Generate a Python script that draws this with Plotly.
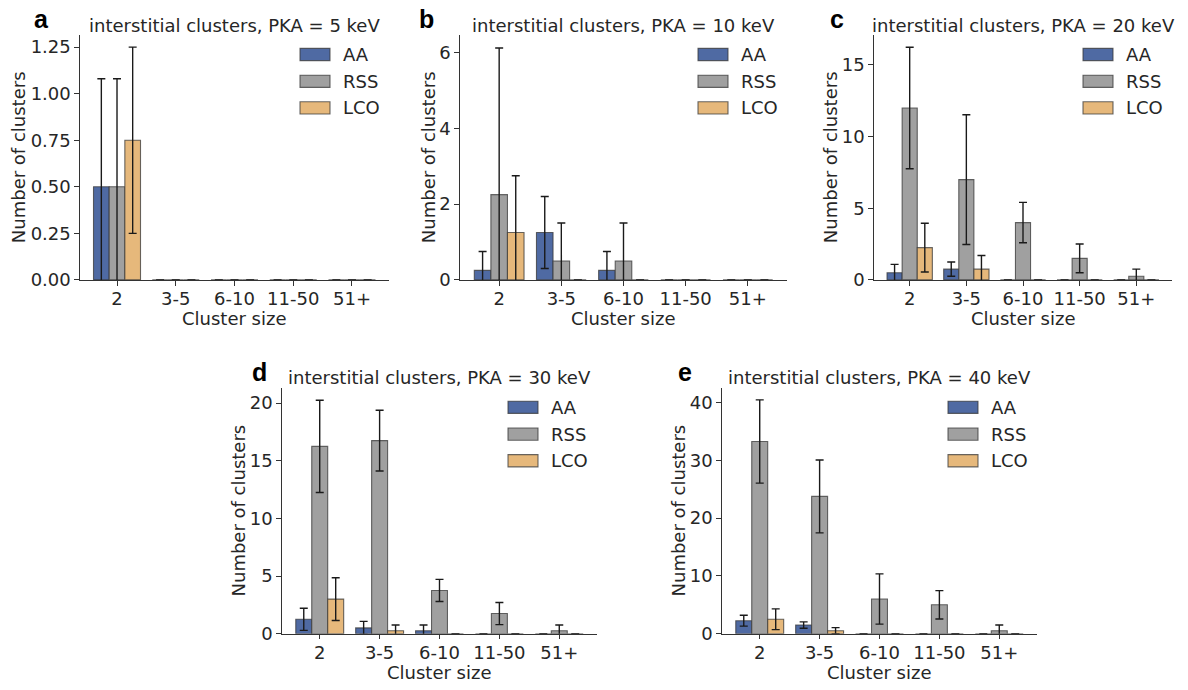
import plotly.graph_objects as go

# ---- data -----------------------------------------------------------------
categories = ["2", "3-5", "6-10", "11-50", "51+"]
series_names = ["AA", "RSS", "LCO"]
series_colors = ["#4f6aa3", "#a0a0a0", "#e6b87b"]
pka_energies = [5, 10, 20, 30, 40]
panel_letters = ["a", "b", "c", "d", "e"]

# mean number of interstitial clusters per size bin, with standard deviations
aa_5 = [0.5, 0, 0, 0, 0]
rss_5 = [0.5, 0, 0, 0, 0]
lco_5 = [0.75, 0, 0, 0, 0]
aa_5_err = [0.58, 0, 0, 0, 0]
rss_5_err = [0.58, 0, 0, 0, 0]
lco_5_err = [0.5, 0, 0, 0, 0]

aa_10 = [0.25, 1.25, 0.25, 0, 0]
rss_10 = [2.25, 0.5, 0.5, 0, 0]
lco_10 = [1.25, 0, 0, 0, 0]
aa_10_err = [0.5, 0.95, 0.5, 0, 0]
rss_10_err = [3.87, 1.0, 1.0, 0, 0]
lco_10_err = [1.5, 0, 0, 0, 0]

aa_20 = [0.5, 0.75, 0, 0, 0]
rss_20 = [12.0, 7.0, 4.0, 1.5, 0.25]
lco_20 = [2.25, 0.75, 0, 0, 0]
aa_20_err = [0.58, 0.5, 0, 0, 0]
rss_20_err = [4.24, 4.53, 1.41, 1.0, 0.5]
lco_20_err = [1.7, 0.95, 0, 0, 0]

aa_30 = [1.25, 0.5, 0.25, 0, 0]
rss_30 = [16.25, 16.75, 3.75, 1.75, 0.25]
lco_30 = [3.0, 0.25, 0, 0, 0]
aa_30_err = [0.96, 0.57, 0.5, 0, 0]
rss_30_err = [4.0, 2.64, 0.96, 0.96, 0.5]
lco_30_err = [1.85, 0.5, 0, 0, 0]

aa_40 = [2.25, 1.5, 0, 0, 0]
rss_40 = [33.25, 23.75, 6.0, 5.0, 0.5]
lco_40 = [2.5, 0.5, 0, 0, 0]
aa_40_err = [0.95, 0.55, 0, 0, 0]
rss_40_err = [7.2, 6.3, 4.35, 2.45, 1.0]
lco_40_err = [1.8, 0.55, 0, 0, 0]

panel_values = [
    [aa_5, rss_5, lco_5],
    [aa_10, rss_10, lco_10],
    [aa_20, rss_20, lco_20],
    [aa_30, rss_30, lco_30],
    [aa_40, rss_40, lco_40],
]
panel_errors = [
    [aa_5_err, rss_5_err, lco_5_err],
    [aa_10_err, rss_10_err, lco_10_err],
    [aa_20_err, rss_20_err, lco_20_err],
    [aa_30_err, rss_30_err, lco_30_err],
    [aa_40_err, rss_40_err, lco_40_err],
]
y_tick_values = [
    [0, 0.25, 0.5, 0.75, 1.0, 1.25],
    [0, 2, 4, 6],
    [0, 5, 10, 15],
    [0, 5, 10, 15, 20],
    [0, 10, 20, 30, 40],
]
y_tick_text = [
    ["0.00", "0.25", "0.50", "0.75", "1.00", "1.25"],
    ["0", "2", "4", "6"],
    ["0", "5", "10", "15"],
    ["0", "5", "10", "15", "20"],
    ["0", "10", "20", "30", "40"],
]
y_max = [1.3125, 6.45, 17.06, 21.29, 42.46]

# ---- layout geometry (pixels: left, right, top, bottom of each axes box) ---
W, H = 1188, 690
boxes = [
    (80, 389, 36, 284),
    (460, 787, 36, 284),
    (874, 1172, 36, 284),
    (282, 597, 394, 643),
    (722, 1037, 394, 643),
]
ylabel_x = [18.5, 428.5, 830.5, 238.5, 678.5]
letter_x = [32, 417, 828, 250, 676]

FONT = "DejaVu Sans"
TXT = "#262626"
AXC = "#333333"
EDGE = "rgba(55,55,55,0.75)"


def px(x):
    return x / W


def py(y):
    return 1 - y / H


fig = go.Figure()
layout = dict(
    width=W,
    height=H,
    margin=dict(l=0, r=0, t=0, b=0),
    paper_bgcolor="white",
    plot_bgcolor="white",
    barmode="group",
    bargap=0.2,
    bargroupgap=0,
    showlegend=False,
    font=dict(family=FONT, size=18, color=TXT),
)
annotations = []
shapes = []

for i, (l, r, t, b) in enumerate(boxes):
    k = "" if i == 0 else str(i + 1)
    xa, ya = "x" + k, "y" + k
    for j, name in enumerate(series_names):
        fig.add_trace(
            go.Bar(
                x=categories,
                y=panel_values[i][j],
                name=name,
                xaxis=xa,
                yaxis=ya,
                marker=dict(color=series_colors[j], line=dict(color=EDGE, width=1.1)),
                error_y=dict(
                    type="data",
                    array=panel_errors[i][j],
                    color="#1a1a1a",
                    thickness=1.4,
                    width=4,
                ),
            )
        )
    common = dict(
        showline=True,
        linecolor=AXC,
        linewidth=1.3,
        ticks="outside",
        ticklen=4.5,
        tickwidth=1.3,
        tickcolor=AXC,
        showgrid=False,
        zeroline=False,
        tickfont=dict(family=FONT, size=18, color=TXT),
    )
    layout["xaxis" + k] = dict(
        common,
        domain=[px(l), px(r)],
        anchor=ya,
        type="category",
        range=[-0.63, 4.63],
        ticklabelstandoff=-2,
    )
    layout["yaxis" + k] = dict(
        common,
        domain=[py(b), py(t)],
        anchor=xa,
        range=[0, y_max[i]],
        tickvals=y_tick_values[i],
        ticktext=y_tick_text[i],
    )

    cx = (l + r) / 2
    # panel title
    annotations.append(dict(
        text=f"interstitial clusters, PKA = {pka_energies[i]} keV",
        x=px(cx), y=py(t - 10.5), xref="paper", yref="paper",
        xanchor="center", yanchor="middle", showarrow=False,
        font=dict(family=FONT, size=18, color=TXT),
    ))
    # panel letter
    annotations.append(dict(
        text=f"<b>{panel_letters[i]}</b>",
        x=px(letter_x[i]), y=py(t - 17), xref="paper", yref="paper",
        xanchor="left", yanchor="middle", showarrow=False,
        font=dict(family="Liberation Sans", size=25, color="black"),
    ))
    # axis titles
    annotations.append(dict(
        text="Cluster size",
        x=px(cx), y=py(b + 39), xref="paper", yref="paper",
        xanchor="center", yanchor="middle", showarrow=False,
        font=dict(family=FONT, size=18, color=TXT),
    ))
    annotations.append(dict(
        text="Number of clusters", textangle=-90,
        x=px(ylabel_x[i]), y=py((t + b) / 2), xref="paper", yref="paper",
        xanchor="center", yanchor="middle", showarrow=False,
        font=dict(family=FONT, size=18, color=TXT),
    ))
    # legend: patch + label per series
    for j, name in enumerate(series_names):
        yc = t + [19.3, 46.5, 73.5][j]
        shapes.append(dict(
            type="rect", xref="paper", yref="paper",
            x0=px(r - 89), x1=px(r - 59), y0=py(yc + 6.2), y1=py(yc - 6.2),
            fillcolor=series_colors[j], line=dict(color=EDGE, width=1.1),
        ))
        annotations.append(dict(
            text=name, x=px(r - 48), y=py(yc), xref="paper", yref="paper",
            xanchor="left", yanchor="middle", showarrow=False,
            font=dict(family=FONT, size=18, color=TXT),
        ))

layout["annotations"] = annotations
layout["shapes"] = shapes
fig.update_layout(**layout)
fig.write_html("out.html")
